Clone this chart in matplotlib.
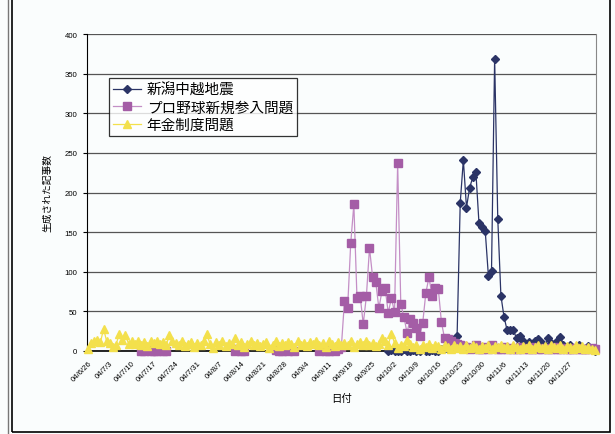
import matplotlib
matplotlib.use("Agg")
import matplotlib.pyplot as plt
import matplotlib.transforms as mtransforms
from matplotlib.patches import Rectangle
from matplotlib.lines import Line2D
import numpy as np
import pandas as pd

plt.rcParams['font.family'] = ['Noto Sans CJK JP', 'DejaVu Sans']

# 日ごとの記事数 (2004/6/26 ~ 2004/12/5)
first_day = "2004-06-26"
last_day = "2004-12-05"

series_names = ["新潟中越地震", "プロ野球新規参入問題", "年金制度問題"]

# 新潟中越地震: 9/30 から
quake_start = "2004-09-30"
quake = [0, 1, 0, 0, 0, 2, 0, 0, 1, 0, 0, 2, 0, 0, 1, 0, 0, 2, 4, 3, 5, 8,
         19, 187, 241, 181, 206, 219, 226, 161, 156, 151,
         95, 101, 369, 167, 70, 43, 26, 26, 26, 16,
         19, 12, 8, 11, 9, 13, 15, 10, 5, 16,
         10, 8, 12, 18, 8, 5, 8, 3, 5, 8,
         4, 3, 6, 2, 0]

# プロ野球新規参入問題: 区間ごと (開始日, 値)
baseball_parts = [
    ("2004-07-13", [0, 0, 1, 0, 0, 0, 2, 0, 0]),
    ("2004-08-12", [0, 2, 0, 0]),
    ("2004-08-25", [1, 0, 0, 2, 0, 1, 0]),
    ("2004-09-08", [0, 2, 0, 0, 1, 0, 3, 5,
                    63, 54, 136, 185, 67, 70, 34, 69, 130, 93,
                    87, 54, 76, 79, 48, 67, 49, 237, 59, 43,
                    23, 41, 35, 29, 19, 35, 73, 93, 70, 80,
                    78, 36, 16, 15, 12, 10, 9, 8, 6,
                    5, 3, 4, 7, 3, 2, 5, 3, 7, 4,
                    2, 3, 5, 2, 4, 3, 2, 5, 3, 4,
                    2, 3, 5, 2, 3, 4, 2, 3, 5, 2,
                    3, 4, 2, 3, 2, 4, 3, 2, 3, 2,
                    4, 3]),
]

# 年金制度問題: 全期間
pension = [2, 10, 12, 14, 11, 28, 12,
           10, 5, 8, 22, 14, 20, 9,
           12, 9, 13, 8, 11, 6, 12,
           10, 13, 9, 11, 7, 20, 12,
           10, 8, 12, 6, 9, 11, 5,
           10, 7, 12, 22, 9, 4, 11,
           8, 12, 6, 10, 9, 17, 8,
           11, 5, 9, 12, 7, 10, 6,
           9, 11, 4, 8, 12, 6, 10,
           7, 11, 9, 5, 12, 8, 10,
           6, 11, 9, 13, 7, 10, 5,
           12, 9, 6, 11, 8, 10, 7,
           12, 5, 9, 11, 7, 13, 8,
           10, 6, 9, 17, 12, 8, 22,
           10, 4, 8, 6, 14, 9, 5,
           7, 3, 8, 5, 9, 4, 7,
           6, 3, 8, 5, 2, 7, 4,
           6, 3, 8, 4, 7, 5, 3,
           6, 4, 8, 3, 6, 5, 7,
           4, 6, 3, 8, 5, 2, 6,
           4, 7, 3, 5, 8, 4, 6,
           3, 7, 5, 4, 8, 3, 6,
           5, 3, 7, 4, 6, 2, 5,
           3, 1]

days = pd.date_range(first_day, last_day, freq="D")

quake_s = pd.Series(quake, index=pd.date_range(quake_start, periods=len(quake), freq="D"),
                    dtype=float).reindex(days)
baseball_s = pd.concat([
    pd.Series(v, index=pd.date_range(s, periods=len(v), freq="D"), dtype=float)
    for s, v in baseball_parts
]).reindex(days)
pension_s = pd.Series(pension, index=days[:len(pension)], dtype=float).reindex(days)

navy = "#2b3466"
purple = "#a45da6"
yellow = "#f3e04c"
bg = "#fafdfd"

fig = plt.figure(figsize=(6.15, 4.35), dpi=100, facecolor=bg)
ax = fig.add_axes([87 / 615, 1 - 352 / 435, (596 - 87) / 615, (352 - 35) / 435])
ax.set_facecolor(bg)

x = np.arange(len(days))
ax.plot(x, quake_s.values, color=navy, lw=0.9, marker="D", ms=4.2,
        mec=navy, mfc=navy, clip_on=False, zorder=3, label=series_names[0])
ax.plot(x, baseball_s.values, color="#c48fc6", lw=0.9, marker="s", ms=5.2,
        mec=purple, mfc=purple, clip_on=False, zorder=4, label=series_names[1])
ax.plot(x, pension_s.values, color=yellow, lw=0.9, marker="^", ms=5.8,
        mec=yellow, mfc=yellow, clip_on=False, zorder=5, label=series_names[2])

ax.set_ylim(0, 400)
ax.set_yticks(np.arange(0, 401, 50))
ax.set_xlim(-0.3, len(days) - 0.6)

tick_idx = np.arange(0, 155, 7)
tick_labels = [f"{d.year % 100:02d}/{d.month}/{d.day}" for d in days[tick_idx]]
ax.set_xticks(tick_idx)
ax.set_xticklabels(tick_labels, rotation=45, ha="right", va="top",
                   rotation_mode="anchor", fontsize=5.6, family="Liberation Sans")
shift = mtransforms.ScaledTranslation(-5 / 100, -4 / 100, fig.dpi_scale_trans)
for lab in ax.get_xticklabels():
    lab.set_transform(lab.get_transform() + shift)
for lab in ax.get_yticklabels():
    lab.set_fontsize(5.6)
    lab.set_family("Liberation Sans")
ax.tick_params(axis="x", length=0, pad=6)
ax.tick_params(axis="y", length=3, width=0.8, pad=4, direction="out")

ax.grid(axis="y", color="#555555", lw=0.9)
ax.set_axisbelow(True)
ax.spines["top"].set_visible(False)
ax.spines["right"].set_color("#888888")
ax.spines["left"].set_color("black")
ax.spines["bottom"].set_color("black")
ax.spines["bottom"].set_linewidth(1.2)

ax.set_ylabel("生成された記事数", fontsize=7)
ax.set_xlabel("日付", fontsize=7.5)
ax.yaxis.set_label_coords(-0.068, 0.5)
ax.xaxis.set_label_coords(0.5, -0.133)

leg = ax.legend(loc="upper left", bbox_to_anchor=(0.043, 0.861), borderaxespad=0,
                fontsize=10.5, frameon=True, fancybox=False, handlelength=1.9,
                handletextpad=0.4, labelspacing=0.25, borderpad=0.3, numpoints=1)
leg.get_frame().set_edgecolor("black")
leg.get_frame().set_linewidth(0.9)
leg.get_frame().set_facecolor("white")

# 外枠
fig.add_artist(Rectangle((12 / 615, 2 / 435), (610 - 12) / 615, 1.2,
                         transform=fig.transFigure, fill=False, ec="black", lw=1.2))
fig.add_artist(Line2D([8 / 615, 8 / 615], [0, 1], transform=fig.transFigure,
                      color="#777777", lw=1.0))

fig.savefig("out.png", dpi=100, facecolor=bg)
